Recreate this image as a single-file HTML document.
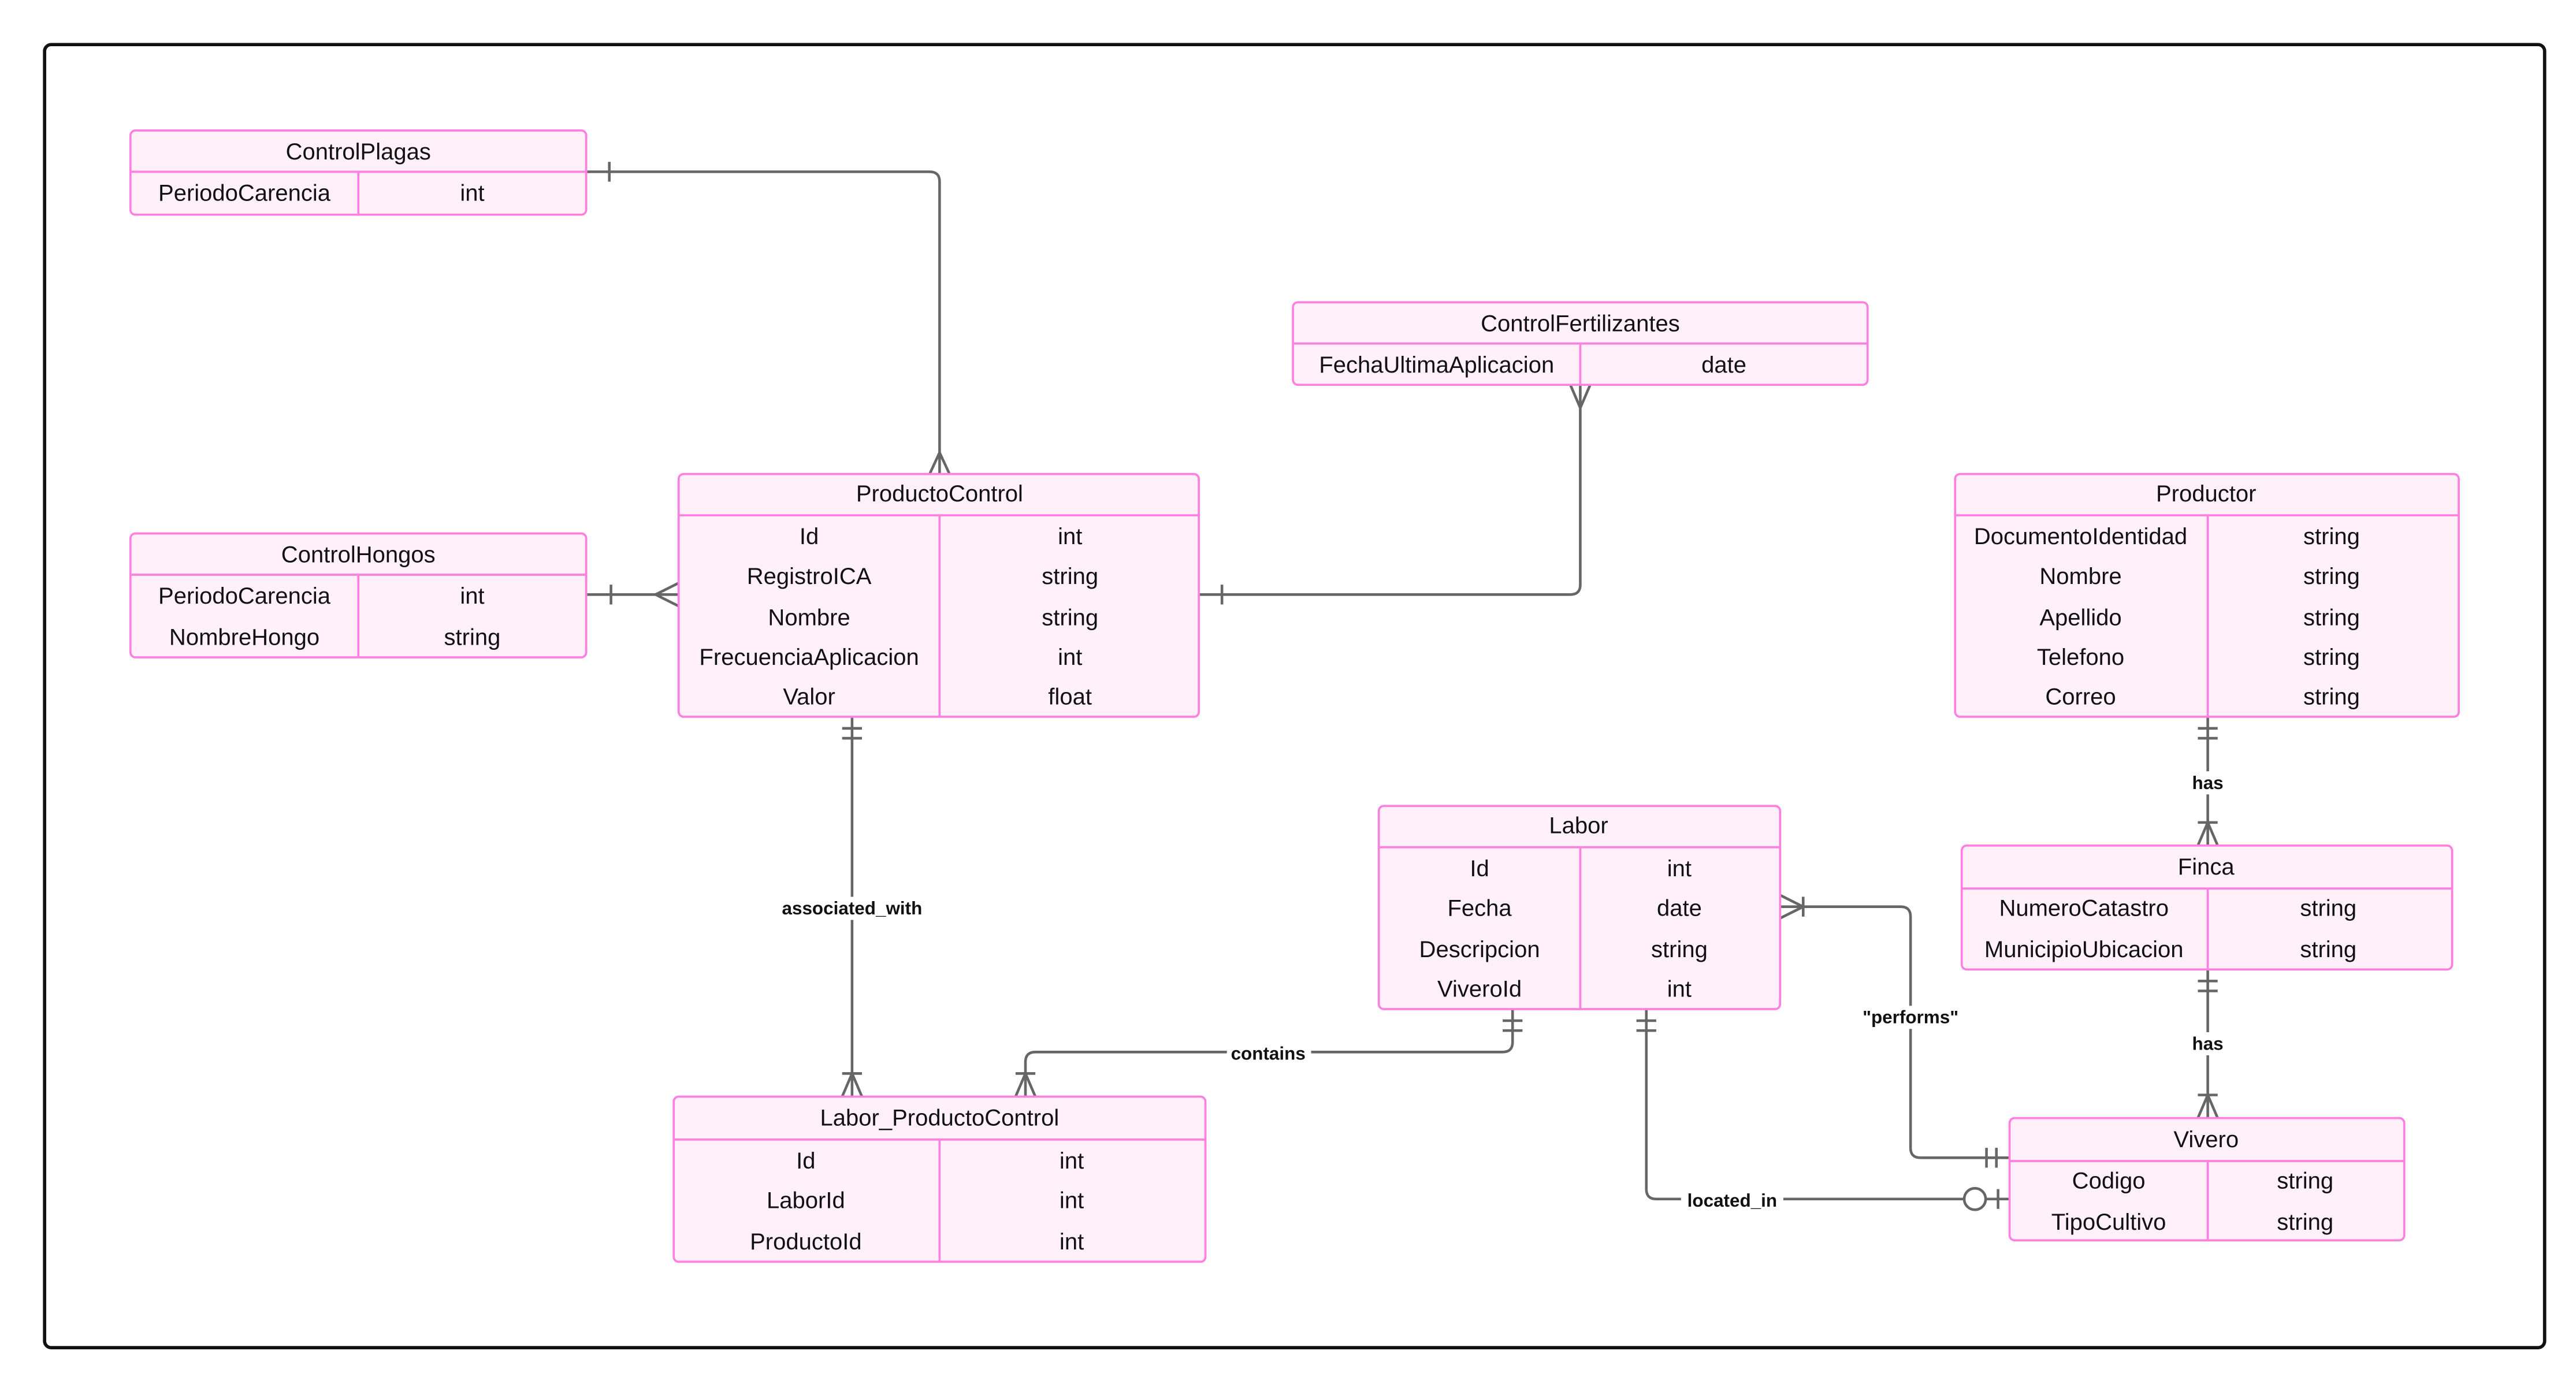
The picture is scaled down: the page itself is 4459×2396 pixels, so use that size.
<!DOCTYPE html>
<html><head><meta charset="utf-8"><style>
html,body{margin:0;padding:0;background:#fff;}
svg{display:block;}
text{font-family:"Liberation Sans",sans-serif;}
.ent{fill:#fff0fa;stroke:#ff80e0;stroke-width:1.3;}
.ln{stroke:#ff80e0;stroke-width:1.3;fill:none;}
.t{font-size:14px;fill:#111;text-anchor:middle;dominant-baseline:central;}
.c{stroke:#666;stroke-width:1.6;fill:none;}
.lb{font-size:11px;font-weight:bold;fill:#111;text-anchor:middle;dominant-baseline:central;}
</style></head><body>
<svg width="4459" height="2396" viewBox="0 0 1560 838" preserveAspectRatio="none" xmlns="http://www.w3.org/2000/svg">
<rect x="0" y="0" width="1560" height="838" fill="#fff"/>
<rect x="27" y="27" width="1514" height="789" rx="4" fill="none" stroke="#111" stroke-width="2"/>

<!-- connectors -->
<g class="c">
<!-- ControlPlagas -> ProductoControl -->
<path d="M355,104 H563 Q569,104 569,110 V287"/>
<path d="M369,98 V110"/>
<path d="M563,287 L569,274 L575,287"/>
<!-- ControlHongos -> ProductoControl -->
<path d="M355,360 H411"/>
<path d="M370,354 V366"/>
<path d="M411,353 L397,360 L411,367"/>
<!-- ProductoControl -> ControlFertilizantes -->
<path d="M726,360 H951 Q957,360 957,354 V233"/>
<path d="M740,354 V366"/>
<path d="M951,233 L957,247 L963,233"/>
<!-- associated_with -->
<path d="M516,434 V664"/>
<path d="M510,441 H522 M510,447 H522"/>
<path d="M510,650 H522 M510,664 L516,650 L522,664"/>
<!-- contains -->
<path d="M916,611 V631 Q916,637 910,637 H627 Q621,637 621,643 V664"/>
<path d="M910,618 H922 M910,624 H922"/>
<path d="M615,650 H627 M615,664 L621,650 L627,664"/>
<!-- performs -->
<path d="M1078,549 H1151 Q1157,549 1157,555 V695 Q1157,701 1163,701 H1217"/>
<path d="M1078,542 L1092,549 L1078,556 M1092,543 V555"/>
<path d="M1203,695 V707 M1209,695 V707"/>
<!-- located_in -->
<path d="M997,611 V720 Q997,726 1003,726 H1189"/>
<path d="M991,618 H1003 M991,624 H1003"/>
<circle cx="1196" cy="726" r="6.5"/>
<path d="M1203,726 H1217 M1210,720 V732"/>
<!-- Productor -> Finca -->
<path d="M1337,434 V512"/>
<path d="M1331,441 H1343 M1331,447 H1343"/>
<path d="M1331,498 H1343 M1331,512 L1337,498 L1343,512"/>
<!-- Finca -> Vivero -->
<path d="M1337,587 V677"/>
<path d="M1331,594 H1343 M1331,600 H1343"/>
<path d="M1331,663 H1343 M1331,677 L1337,663 L1343,677"/>
</g>

<!-- labels -->
<rect x="468" y="543" width="96" height="14" fill="#fff"/><text class="lb" x="516" y="550">associated_with</text>
<rect x="743" y="631" width="51" height="14" fill="#fff"/><text class="lb" x="768" y="638">contains</text>
<rect x="1122" y="609" width="70" height="14" fill="#fff"/><text class="lb" x="1157" y="616">"performs"</text>
<rect x="1018" y="720" width="62" height="14" fill="#fff"/><text class="lb" x="1049" y="727">located_in</text>
<rect x="1324" y="467" width="26" height="14" fill="#fff"/><text class="lb" x="1337" y="474">has</text>
<rect x="1324" y="625" width="26" height="14" fill="#fff"/><text class="lb" x="1337" y="632">has</text>

<!-- ControlPlagas -->
<rect class="ent" x="79" y="79" width="276" height="51" rx="3"/>
<path class="ln" d="M79,104 H355 M217,104 V130"/>
<text class="t" x="217" y="92">ControlPlagas</text>
<text class="t" x="148" y="117">PeriodoCarencia</text><text class="t" x="286" y="117">int</text>

<!-- ControlHongos -->
<rect class="ent" x="79" y="323" width="276" height="75" rx="3"/>
<path class="ln" d="M79,348 H355 M217,348 V398"/>
<text class="t" x="217" y="336">ControlHongos</text>
<text class="t" x="148" y="361">PeriodoCarencia</text><text class="t" x="286" y="361">int</text>
<text class="t" x="148" y="386">NombreHongo</text><text class="t" x="286" y="386">string</text>

<!-- ProductoControl -->
<rect class="ent" x="411" y="287" width="315" height="147" rx="3"/>
<path class="ln" d="M411,312 H726 M569,312 V434"/>
<text class="t" x="569" y="299">ProductoControl</text>
<text class="t" x="490" y="325">Id</text><text class="t" x="648" y="325">int</text>
<text class="t" x="490" y="349">RegistroICA</text><text class="t" x="648" y="349">string</text>
<text class="t" x="490" y="374">Nombre</text><text class="t" x="648" y="374">string</text>
<text class="t" x="490" y="398">FrecuenciaAplicacion</text><text class="t" x="648" y="398">int</text>
<text class="t" x="490" y="422">Valor</text><text class="t" x="648" y="422">float</text>

<!-- ControlFertilizantes -->
<rect class="ent" x="783" y="183" width="348" height="50" rx="3"/>
<path class="ln" d="M783,208 H1131 M957,208 V233"/>
<text class="t" x="957" y="196">ControlFertilizantes</text>
<text class="t" x="870" y="221">FechaUltimaAplicacion</text><text class="t" x="1044" y="221">date</text>

<!-- Productor -->
<rect class="ent" x="1184" y="287" width="305" height="147" rx="3"/>
<path class="ln" d="M1184,312 H1489 M1337,312 V434"/>
<text class="t" x="1336" y="299">Productor</text>
<text class="t" x="1260" y="325">DocumentoIdentidad</text><text class="t" x="1412" y="325">string</text>
<text class="t" x="1260" y="349">Nombre</text><text class="t" x="1412" y="349">string</text>
<text class="t" x="1260" y="374">Apellido</text><text class="t" x="1412" y="374">string</text>
<text class="t" x="1260" y="398">Telefono</text><text class="t" x="1412" y="398">string</text>
<text class="t" x="1260" y="422">Correo</text><text class="t" x="1412" y="422">string</text>

<!-- Labor -->
<rect class="ent" x="835" y="488" width="243" height="123" rx="3"/>
<path class="ln" d="M835,513 H1078 M957,513 V611"/>
<text class="t" x="956" y="500">Labor</text>
<text class="t" x="896" y="526">Id</text><text class="t" x="1017" y="526">int</text>
<text class="t" x="896" y="550">Fecha</text><text class="t" x="1017" y="550">date</text>
<text class="t" x="896" y="575">Descripcion</text><text class="t" x="1017" y="575">string</text>
<text class="t" x="896" y="599">ViveroId</text><text class="t" x="1017" y="599">int</text>

<!-- Finca -->
<rect class="ent" x="1188" y="512" width="297" height="75" rx="3"/>
<path class="ln" d="M1188,538 H1485 M1337,538 V587"/>
<text class="t" x="1336" y="525">Finca</text>
<text class="t" x="1262" y="550">NumeroCatastro</text><text class="t" x="1410" y="550">string</text>
<text class="t" x="1262" y="575">MunicipioUbicacion</text><text class="t" x="1410" y="575">string</text>

<!-- Labor_ProductoControl -->
<rect class="ent" x="408" y="664" width="322" height="100" rx="3"/>
<path class="ln" d="M408,690 H730 M569,690 V764"/>
<text class="t" x="569" y="677">Labor_ProductoControl</text>
<text class="t" x="488" y="703">Id</text><text class="t" x="649" y="703">int</text>
<text class="t" x="488" y="727">LaborId</text><text class="t" x="649" y="727">int</text>
<text class="t" x="488" y="752">ProductoId</text><text class="t" x="649" y="752">int</text>

<!-- Vivero -->
<rect class="ent" x="1217" y="677" width="239" height="74" rx="3"/>
<path class="ln" d="M1217,703 H1456 M1337,703 V751"/>
<text class="t" x="1336" y="690">Vivero</text>
<text class="t" x="1277" y="715">Codigo</text><text class="t" x="1396" y="715">string</text>
<text class="t" x="1277" y="740">TipoCultivo</text><text class="t" x="1396" y="740">string</text>
</svg>
</body></html>
